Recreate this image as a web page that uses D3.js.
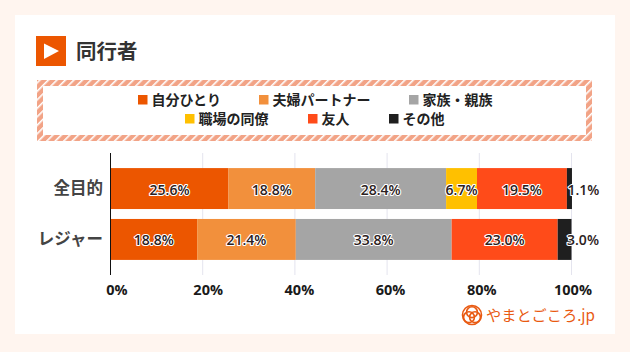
<!DOCTYPE html>
<html>
<head>
<meta charset="utf-8">
<script src="https://cdn.jsdelivr.net/npm/d3@7"></script>
<style>
  html, body { margin: 0; padding: 0; background: #fff5ef; }
  svg { display: block; font-family: "Noto Sans CJK JP", "Open Sans", sans-serif; }
</style>
</head>
<body>
<div id="chart"></div>
<script>
const categories = ["全目的", "レジャー"];
const seriesNames = ["自分ひとり", "夫婦パートナー", "家族・親族", "職場の同僚", "友人", "その他"];
const seriesColors = ["#ec5600", "#f2903c", "#a5a5a5", "#ffc000", "#ff4b19", "#1f1f1f"];
const allPurpose = [25.6, 18.8, 28.4, 6.7, 19.5, 1.1];
const leisure = [18.8, 21.4, 33.8, 0, 23.0, 3.0];
const xTicks = [0, 20, 40, 60, 80, 100];

const width = 630, height = 352;
const rows = categories.map((c, i) => {
  const row = { category: c };
  seriesNames.forEach((s, j) => row[s] = (i === 0 ? allPurpose : leisure)[j]);
  return row;
});

const svg = d3.select("#chart").append("svg")
  .attr("width", width)
  .attr("height", height);

// card
svg.append("rect").attr("x", 15).attr("y", 15).attr("width", 600).attr("height", 319).attr("fill", "#fff");

// title
svg.append("rect").attr("x", 36).attr("y", 36).attr("width", 30).attr("height", 30).attr("fill", "#ec5600");
svg.append("path").attr("d", "M44,43.5 L59,51 L44,59 Z").attr("fill", "#fff");
svg.append("text").attr("x", 76).attr("y", 58.5)
  .attr("font-size", 20.5).attr("font-weight", 700).attr("fill", "#333")
  .text("同行者");

// legend frame with hatch
const hatch = svg.append("defs").append("pattern")
  .attr("id", "hatch").attr("width", 6).attr("height", 6)
  .attr("patternUnits", "userSpaceOnUse")
  .attr("patternTransform", "rotate(45)");
hatch.append("rect").attr("width", 6).attr("height", 6).attr("fill", "#f2a386");
hatch.append("rect").attr("width", 1.6).attr("height", 6).attr("fill", "#fff");

svg.append("rect").attr("x", 37).attr("y", 80).attr("width", 555).attr("height", 61).attr("fill", "url(#hatch)");
svg.append("rect").attr("x", 43).attr("y", 86).attr("width", 543).attr("height", 49).attr("fill", "#fff");

const legendPos = [[138, 100], [259, 100], [409, 100], [185, 119], [308, 119], [389, 119]];
const legend = svg.append("g").selectAll("g")
  .data(seriesNames)
  .enter().append("g")
  .attr("transform", (d, i) => `translate(${legendPos[i][0]}, ${legendPos[i][1]})`);
legend.append("rect").attr("x", 0).attr("y", -5).attr("width", 9.5).attr("height", 9.5)
  .attr("fill", (d, i) => seriesColors[i]);
legend.append("text").attr("x", 13.5).attr("y", 5)
  .attr("font-size", 14).attr("font-weight", 700).attr("fill", "#222")
  .text(d => d);

// plot
const x = d3.scaleLinear().domain([0, 100]).range([110.5, 571.5]);
// tick labels sit on their own even spacing, slightly off the gridlines
const xLabel = d3.scaleLinear().domain([0, 100]).range([117, 573]);
const y = d3.scaleBand().domain(categories).range([163, 265]).paddingInner(0.195).paddingOuter(0.1);

svg.append("g").selectAll("line")
  .data(xTicks.slice(1))
  .enter().append("line")
  .attr("x1", d => x(d)).attr("x2", d => x(d))
  .attr("y1", 153).attr("y2", 275)
  .attr("stroke", "#e4e4ee").attr("stroke-width", 1);

const stacked = d3.stack().keys(seriesNames)(rows);

const layers = svg.append("g").selectAll("g")
  .data(stacked)
  .enter().append("g")
  .attr("fill", (d, i) => seriesColors[i]);

layers.selectAll("rect")
  .data(d => d)
  .enter().append("rect")
  .attr("x", d => x(d[0]))
  .attr("y", d => y(d.data.category))
  .attr("width", d => x(d[1]) - x(d[0]))
  .attr("height", y.bandwidth());

// value labels
const labels = svg.append("g");
stacked.forEach(layer => {
  layer.forEach(d => {
    const value = d[1] - d[0];
    if (value <= 0) return;
    let cx = (x(d[0]) + x(d[1])) / 2;
    if (layer.key === "その他") cx = x(d[1]) + 11.5;
    labels.append("text")
      .attr("x", cx)
      .attr("y", y(d.data.category) + y.bandwidth() / 2 + 6)
      .attr("text-anchor", "middle")
      .attr("font-family", "'Open Sans', sans-serif")
      .attr("font-size", 14).attr("font-weight", 600)
      .attr("fill", "#2b2020")
      .attr("stroke", "#fff").attr("stroke-width", 2.2)
      .attr("stroke-linejoin", "round")
      .attr("paint-order", "stroke")
      .text(value.toFixed(1) + "%");
  });
});

// axes
svg.append("line").attr("x1", x(0)).attr("x2", x(0)).attr("y1", 153).attr("y2", 275)
  .attr("stroke", "#111").attr("stroke-width", 1);

svg.append("g").selectAll("text")
  .data(xTicks)
  .enter().append("text")
  .attr("x", d => xLabel(d))
  .attr("y", 294.5)
  .attr("text-anchor", "middle")
  .attr("font-family", "'Open Sans', sans-serif")
  .attr("font-size", 14.5).attr("font-weight", 700).attr("fill", "#1a1a1a")
  .text(d => d + "%");

svg.append("g").selectAll("text")
  .data(categories)
  .enter().append("text")
  .attr("x", 103)
  .attr("y", d => y(d) + y.bandwidth() / 2 + 5.5)
  .attr("text-anchor", "end")
  .attr("font-size", 16.5).attr("font-weight", 700).attr("fill", "#444")
  .text(d => d);

// logo
const logo = svg.append("g").attr("transform", "translate(472, 315)")
  .attr("fill", "none").attr("stroke", "#e95a12").attr("stroke-width", 1.6);
logo.append("circle").attr("r", 9.5);
logo.append("circle").attr("cx", -3).attr("cy", 2.2).attr("r", 5.4);
logo.append("circle").attr("cx", 3).attr("cy", 2.2).attr("r", 5.4);
logo.append("circle").attr("cx", 0).attr("cy", -2.8).attr("r", 5.4);
svg.append("text").attr("x", 486).attr("y", 321)
  .attr("font-size", 15.2).attr("font-weight", 400).attr("fill", "#e95a12")
  .text("やまとごころ.jp");
</script>
</body>
</html>
